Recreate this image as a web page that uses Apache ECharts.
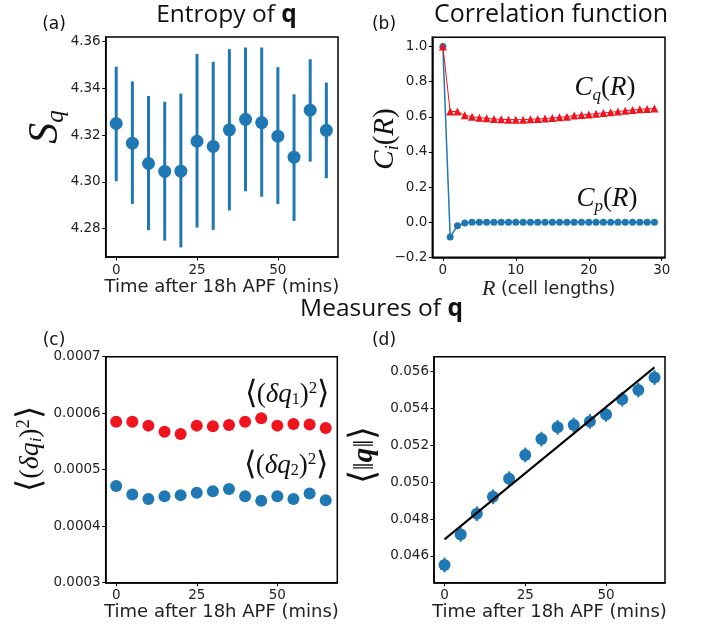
<!DOCTYPE html>
<html>
<head>
<meta charset="utf-8">
<script src="https://cdn.jsdelivr.net/npm/echarts@6/dist/echarts.min.js"></script>
<style>html,body{margin:0;padding:0;background:#fff}#c{width:702px;height:627px}</style>
</head>
<body>
<div id="c"></div>
<script>
// ---- data ----
var timeMins = [0, 5, 10, 15, 20, 25, 30, 35, 40, 45, 50, 55, 60, 65];
var timeTicks = [0, 25, 50];

var entropyMean = [4.3250, 4.3166, 4.3079, 4.3045, 4.3046, 4.3174, 4.3152, 4.3223, 4.3268, 4.3254, 4.3196, 4.3106, 4.3307, 4.3221];
var entropyLow  = [4.3003, 4.2906, 4.2794, 4.2749, 4.2720, 4.2805, 4.2795, 4.2878, 4.2960, 4.2937, 4.2906, 4.2833, 4.3087, 4.3016];
var entropyHigh = [4.3493, 4.3430, 4.3368, 4.3343, 4.3378, 4.3548, 4.3514, 4.3568, 4.3575, 4.3575, 4.3491, 4.3375, 4.3525, 4.3425];
var entropyTicks = [4.28, 4.30, 4.32, 4.34, 4.36];

var cellR = [0,1,2,3,4,5,6,7,8,9,10,11,12,13,14,15,16,17,18,19,20,21,22,23,24,25,26,27,28,29];
var corrQ = [1.0, 0.631, 0.630, 0.609, 0.601, 0.595, 0.592, 0.588, 0.586, 0.584, 0.584, 0.584, 0.586, 0.588, 0.590, 0.594, 0.597, 0.601, 0.607, 0.611, 0.614, 0.618, 0.622, 0.626, 0.630, 0.635, 0.639, 0.643, 0.645, 0.648];
var corrP = [1.0, -0.085, -0.020, -0.004, 0, 0, 0, 0, 0, 0, 0, 0, 0, 0, 0, 0, 0, 0, 0, 0, 0, 0, 0, 0, 0, 0, 0, 0, 0, 0];
var cellTicks = [0, 10, 20, 30];
var corrTicks = [-0.2, 0.0, 0.2, 0.4, 0.6, 0.8, 1.0];

var dq1 = [0.000585, 0.000585, 0.000578, 0.000567, 0.000563, 0.000578, 0.000577, 0.000579, 0.000585, 0.000591, 0.000578, 0.000581, 0.000580, 0.000574];
var dq2 = [0.000471, 0.000456, 0.000448, 0.000453, 0.000455, 0.000459, 0.000462, 0.000466, 0.000453, 0.000445, 0.000453, 0.000448, 0.000458, 0.000446];
var dqTicks = [0.0003, 0.0004, 0.0005, 0.0006, 0.0007];

var qNorm = [0.04551, 0.04717, 0.04829, 0.04921, 0.05019, 0.05148, 0.05234, 0.05298, 0.05311, 0.05330, 0.05368, 0.05450, 0.05500, 0.05568];
var qErr  = [0.0004, 0.0004, 0.0004, 0.0004, 0.0004, 0.0004, 0.0004, 0.0004, 0.0004, 0.0004, 0.0004, 0.0004, 0.0004, 0.0004];
var fitX = [0, 65];
var fitY = [0.04690, 0.05623];
var qTicks = [0.046, 0.048, 0.050, 0.052, 0.054, 0.056];

// ---- styling ----
var BLUE = '#1f77b4';
var RED = '#f0141e';
var TXTBLUE = '#3d4fae';
var TXTRED = '#e8262c';
var TICKFONT = 'DejaVu Sans';
var MATH = 'Liberation Serif';

var chart = echarts.init(document.getElementById('c'), null, {renderer: 'canvas'});

var grids = [
  {left: 105.7, top: 37, width: 232.3, height: 220},
  {left: 432.3, top: 37.3, width: 232.7, height: 220},
  {left: 105.7, top: 356.7, width: 231.6, height: 226},
  {left: 434, top: 356.7, width: 231, height: 226}
];
grids.forEach(function (g) { g.show = true; g.borderColor = '#000'; g.borderWidth = 1.5; g.backgroundColor = 'transparent'; });

function minusFmt(d) {
  return function (v) { var s = Math.abs(v).toFixed(d); return v < -1e-12 ? '\u2212' + s : s; };
}

function xAx(gi, min, max, ticks, name, rich) {
  return {
    type: 'value', gridIndex: gi, min: min, max: max, position: 'bottom',
    splitLine: {show: false},
    axisLine: {show: true, onZero: false, lineStyle: {color: '#000', width: 1.5}},
    axisTick: {show: true, inside: false, length: 3.5, customValues: ticks, lineStyle: {color: '#000', width: 1}},
    axisLabel: {show: true, customValues: ticks, margin: 6, color: '#222', fontFamily: TICKFONT, fontSize: 13.5},
    name: name, nameLocation: 'middle', nameGap: 19,
    nameTextStyle: rich ? {rich: rich, color: '#222'} : {color: '#222', fontFamily: TICKFONT, fontSize: 18}
  };
}
function yAx(gi, min, max, ticks, fmt) {
  return {
    type: 'value', gridIndex: gi, min: min, max: max, position: 'left',
    splitLine: {show: false},
    axisLine: {show: true, onZero: false, lineStyle: {color: '#000', width: 1.5}},
    axisTick: {show: true, inside: false, length: 3.5, customValues: ticks, lineStyle: {color: '#000', width: 1}},
    axisLabel: {show: true, customValues: ticks, margin: 5, color: '#222', fontFamily: TICKFONT, fontSize: 13.5, formatter: fmt}
  };
}

function errBar(xi, yi, data, color, width) {
  return {
    type: 'custom', xAxisIndex: xi, yAxisIndex: yi, z: 2,
    data: data,
    renderItem: function (params, api) {
      var p1 = api.coord([api.value(0), api.value(1)]);
      var p2 = api.coord([api.value(0), api.value(2)]);
      return {type: 'line', shape: {x1: p1[0], y1: p1[1], x2: p2[0], y2: p2[1]}, style: {stroke: color, lineWidth: width}};
    },
    encode: {x: 0, y: [1, 2]},
    silent: true
  };
}

function pairs(xs, ys) { return xs.map(function (x, i) { return [x, ys[i]]; }); }

var titleFont = 'Open Sans';

function tx(x, y, rich, text, rot) {
  var el = {type: 'text', x: x, y: y, z: 100,
    style: {text: text, rich: rich, align: 'center', verticalAlign: 'middle', fill: '#111'}};
  if (rot) el.rotation = rot;
  return el;
}

function deltaLabel(color, idx, big, mid, small) {
  return {
    b: {fontFamily: 'DejaVu Sans', fontSize: big, fontWeight: 'lighter', lineHeight: big + 6, color: color},
    n: {fontFamily: MATH, fontSize: mid, lineHeight: big + 6, color: color},
    d: {fontFamily: MATH, fontStyle: 'italic', fontSize: mid, lineHeight: big + 6, color: color},
    i: {fontFamily: MATH, fontStyle: idx === 'i' ? 'italic' : 'normal', fontSize: small, lineHeight: small, verticalAlign: 'bottom', padding: [0, 0, 6, 0], color: color},
    s: {fontFamily: MATH, fontSize: small + 1, lineHeight: small + 1, verticalAlign: 'top', padding: [4, 0, 0, 0], color: color}
  };
}

var option = {
  backgroundColor: '#fff',
  animation: false,
  grid: grids,
  xAxis: [
    xAx(0, -3.25, 68.6, timeTicks, 'Time after 18h APF (mins)'),
    xAx(1, -1.45, 30.45, cellTicks, '{i|R}{n| (cell lengths)}', {
      i: {fontFamily: MATH, fontStyle: 'italic', fontSize: 22, color: '#222'},
      n: {fontFamily: TICKFONT, fontSize: 17.5, color: '#222'}
    }),
    xAx(2, -3.25, 68.6, timeTicks, 'Time after 18h APF (mins)'),
    xAx(3, -3.25, 68.25, timeTicks, 'Time after 18h APF (mins)')
  ],
  yAxis: [
    yAx(0, 4.2679, 4.362, entropyTicks, function (v) { return v.toFixed(2); }),
    yAx(1, -0.2, 1.053, corrTicks, minusFmt(1)),
    yAx(2, 0.0003, 0.0007, dqTicks, function (v) { return v.toFixed(4); }),
    yAx(3, 0.04455, 0.05681, qTicks, function (v) { return v.toFixed(3); })
  ],
  series: [
    errBar(0, 0, timeMins.map(function (t, i) { return [t, entropyLow[i], entropyHigh[i]]; }), BLUE, 3),
    {type: 'scatter', xAxisIndex: 0, yAxisIndex: 0, z: 3, data: pairs(timeMins, entropyMean),
      symbol: 'circle', symbolSize: 13, itemStyle: {color: BLUE, opacity: 1}},

    {type: 'line', xAxisIndex: 1, yAxisIndex: 1, z: 3, data: pairs(cellR, corrP),
      symbol: 'circle', symbolSize: 7, showSymbol: true,
      lineStyle: {color: BLUE, width: 1.5}, itemStyle: {color: BLUE}},
    {type: 'line', xAxisIndex: 1, yAxisIndex: 1, z: 4, data: pairs(cellR, corrQ),
      symbol: 'triangle', symbolSize: 8, showSymbol: true,
      lineStyle: {color: RED, width: 1}, itemStyle: {color: RED}},

    {type: 'scatter', xAxisIndex: 2, yAxisIndex: 2, z: 3, data: pairs(timeMins, dq1),
      symbol: 'circle', symbolSize: 12, itemStyle: {color: RED, opacity: 1}},
    {type: 'scatter', xAxisIndex: 2, yAxisIndex: 2, z: 3, data: pairs(timeMins, dq2),
      symbol: 'circle', symbolSize: 12, itemStyle: {color: BLUE, opacity: 1}},

    errBar(3, 3, timeMins.map(function (t, i) { return [t, qNorm[i] - qErr[i], qNorm[i] + qErr[i]]; }), BLUE, 2),
    {type: 'line', xAxisIndex: 3, yAxisIndex: 3, z: 4, data: pairs(fitX, fitY),
      symbol: 'none', lineStyle: {color: '#000', width: 2}},
    {type: 'scatter', xAxisIndex: 3, yAxisIndex: 3, z: 3, data: pairs(timeMins, qNorm),
      symbol: 'circle', symbolSize: 12, itemStyle: {color: BLUE, opacity: 1}}
  ],
  graphic: [
    // titles
    tx(226.5, 15, {a: {fontFamily: titleFont, fontSize: 24.5, color: '#111'}, b: {fontFamily: titleFont, fontSize: 24.5, fontWeight: 'bold', color: '#111'}}, '{a|Entropy of }{b|q}'),
    tx(551, 15, {a: {fontFamily: titleFont, fontSize: 25, color: '#111'}}, '{a|Correlation function}'),
    tx(381.5, 309, {a: {fontFamily: titleFont, fontSize: 24.5, color: '#111'}, b: {fontFamily: titleFont, fontSize: 24.5, fontWeight: 'bold', color: '#111'}}, '{a|Measures of }{b|q}'),
    // panel letters
    tx(54, 25, {a: {fontFamily: TICKFONT, fontSize: 17, color: '#111'}}, '{a|(a)}'),
    tx(384, 25, {a: {fontFamily: TICKFONT, fontSize: 17, color: '#111'}}, '{a|(b)}'),
    tx(54, 341, {a: {fontFamily: TICKFONT, fontSize: 17, color: '#111'}}, '{a|(c)}'),
    tx(384, 341, {a: {fontFamily: TICKFONT, fontSize: 17, color: '#111'}}, '{a|(d)}'),
    // y-axis labels
    tx(46, 127, {
      s: {fontFamily: MATH, fontStyle: 'italic', fontSize: 42, lineHeight: 46, color: '#111'},
      q: {fontFamily: MATH, fontStyle: 'italic', fontSize: 25, lineHeight: 25, verticalAlign: 'bottom', color: '#111'}
    }, '{s|S}{q|q}', Math.PI / 2),
    tx(385, 139, {
      c: {fontFamily: MATH, fontStyle: 'italic', fontSize: 29, lineHeight: 34, color: '#111'},
      i: {fontFamily: MATH, fontStyle: 'italic', fontSize: 18, lineHeight: 18, verticalAlign: 'bottom', color: '#111'},
      n: {fontFamily: MATH, fontSize: 29, lineHeight: 34, color: '#111'}
    }, '{c|C}{i|i}{n|(}{c|R}{n|)}', Math.PI / 2),
    tx(31, 449, deltaLabel('#111', 'i', 34, 28, 17), '{b|\u27E8}{n|(}{d|\u03B4q}{i|i}{n|)}{s|2}{b|\u27E9}', Math.PI / 2),
    tx(365, 455, {
      b: {fontFamily: 'DejaVu Sans', fontSize: 36, fontWeight: 'lighter', lineHeight: 42, color: '#111'},
      n: {fontFamily: MATH, fontSize: 29, lineHeight: 42, color: '#111'},
      q: {fontFamily: MATH, fontStyle: 'italic', fontWeight: 'bold', fontSize: 29, lineHeight: 42, color: '#111'}
    }, '{b|\u27E8}{n|\u2016}{q|q}{n|\u2016}{b|\u27E9}', Math.PI / 2),
    // annotations
    tx(605, 88, {
      c: {fontFamily: MATH, fontStyle: 'italic', fontSize: 27, lineHeight: 32, color: TXTRED},
      s: {fontFamily: MATH, fontStyle: 'italic', fontSize: 17, lineHeight: 17, verticalAlign: 'bottom', color: TXTRED},
      n: {fontFamily: MATH, fontSize: 27, lineHeight: 32, color: TXTRED}
    }, '{c|C}{s|q}{n|(}{c|R}{n|)}'),
    tx(607, 199, {
      c: {fontFamily: MATH, fontStyle: 'italic', fontSize: 27, lineHeight: 32, color: TXTBLUE},
      s: {fontFamily: MATH, fontStyle: 'italic', fontSize: 17, lineHeight: 17, verticalAlign: 'bottom', color: TXTBLUE},
      n: {fontFamily: MATH, fontSize: 27, lineHeight: 32, color: TXTBLUE}
    }, '{c|C}{s|p}{n|(}{c|R}{n|)}'),
    tx(287, 395, deltaLabel(TXTRED, '1', 32, 27, 16), '{b|\u27E8}{n|(}{d|\u03B4q}{i|1}{n|)}{s|2}{b|\u27E9}'),
    tx(286, 466, deltaLabel(TXTBLUE, '2', 32, 27, 16), '{b|\u27E8}{n|(}{d|\u03B4q}{i|2}{n|)}{s|2}{b|\u27E9}')
  ]
};
chart.setOption(option);
</script>
</body>
</html>
